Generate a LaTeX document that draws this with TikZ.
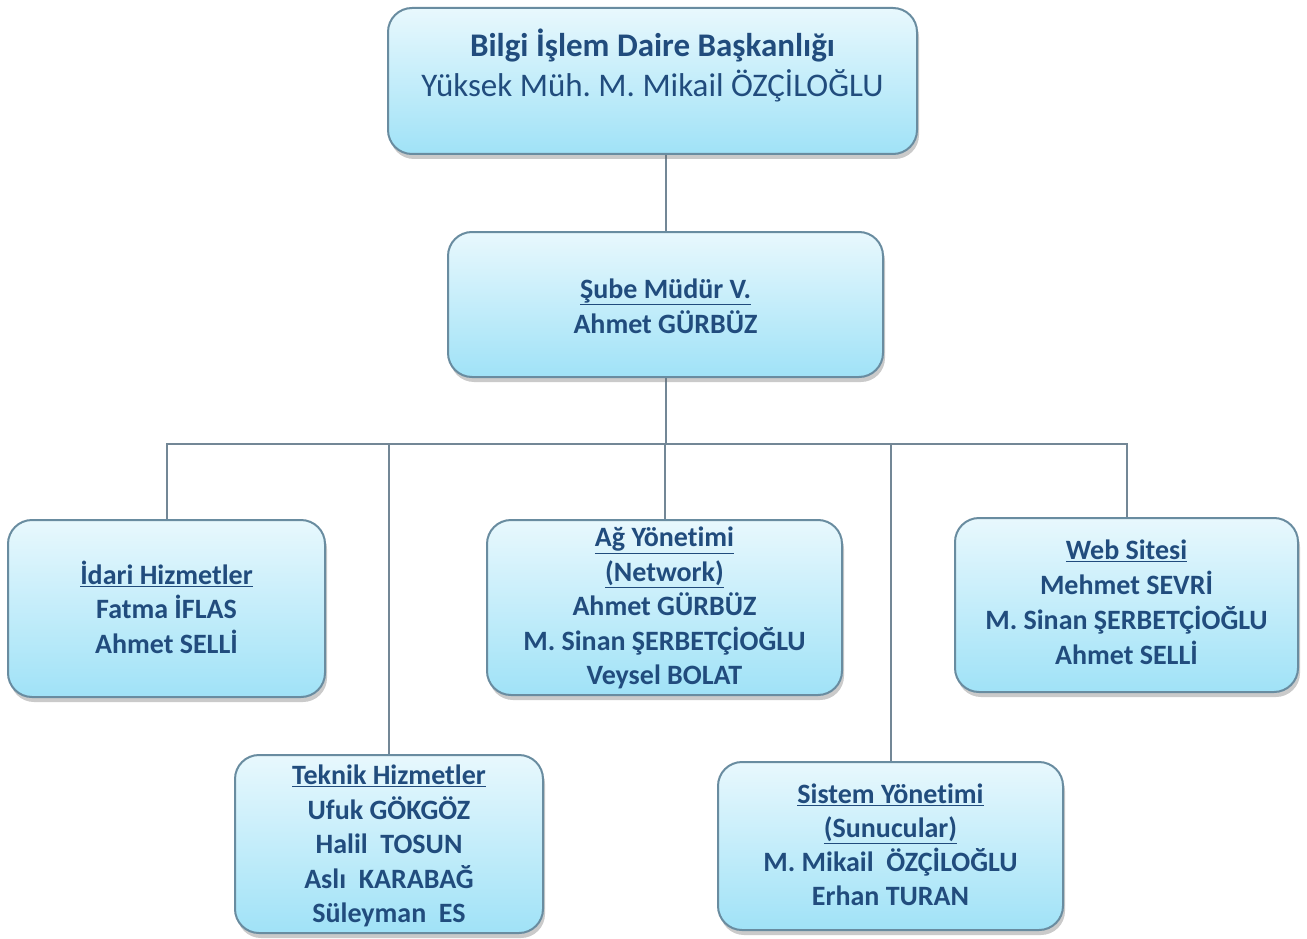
\documentclass[tikz,border=0pt]{standalone}
\usepackage{fontspec}
\setmainfont[Ligatures=NoCommon]{Carlito}
\usetikzlibrary{shadows}
\definecolor{txt}{RGB}{33,76,125}
\definecolor{boxtop}{RGB}{232,248,253}
\definecolor{boxbot}{RGB}{160,226,247}
\definecolor{boxedge}{RGB}{105,140,160}
\definecolor{conn}{RGB}{115,135,150}
\pgfdeclarelayer{background}
\pgfsetlayers{background,main}
\frenchspacing
\begin{document}
\frenchspacing
\begin{tikzpicture}[x=1pt,y=-1pt,
  orgbox/.style={draw=boxedge, line width=2pt, rounded corners=24pt,
    top color=boxtop, bottom color=boxbot,
    drop shadow={shadow xshift=2pt, shadow yshift=-5pt, opacity=0.35, fill=black!60},
    inner sep=0pt},
  lbl/.style={text=txt, align=center, inner sep=0pt,
    font=\bfseries\fontsize{28}{34.5}\selectfont},
  link/.style={draw=conn, line width=2pt}]
\useasboundingbox (0,0) rectangle (1307,939);

% boxes
\node[orgbox, minimum width=529pt, minimum height=146pt] (top) at (652.5,81) {};
\node[orgbox, minimum width=435pt, minimum height=145pt] (b2) at (665.5,304.5) {};
\node[orgbox, minimum width=317pt, minimum height=177pt] (idari) at (166.5,608.5) {};
\node[orgbox, minimum width=355pt, minimum height=175pt] (ag) at (664.5,607.5) {};
\node[orgbox, minimum width=343pt, minimum height=174pt] (web) at (1126.5,605) {};
\node[orgbox, minimum width=308pt, minimum height=178pt] (teknik) at (389,844) {};
\node[orgbox, minimum width=345pt, minimum height=168pt] (sistem) at (890.5,846) {};

% texts
\node[lbl, font=\fontsize{33}{40}\selectfont] (toptxt) at (652.5,68.6)
  {\textbf{Bilgi İşlem Daire Başkanlığı}\strut\\Yüksek Müh. M. Mikail ÖZÇİLOĞLU\strut};
\node[lbl, font=\bfseries\fontsize{28}{35}\selectfont] (b2txt) at (665.5,308.6)
  {\underline{Şube Müdür V.}\strut\\Ahmet GÜRBÜZ\strut};
\node[lbl] (idaritxt) at (166.5,612)
  {\underline{İdari Hizmetler}\strut\\Fatma İFLAS\strut\\Ahmet SELLİ\strut};
\node[lbl] (agtxt) at (664.5,609)
  {\underline{Ağ Yönetimi}\strut\\\underline{(Network)}\strut\\Ahmet GÜRBÜZ\strut\\M. Sinan ŞERBETÇİOĞLU\strut\\Veysel BOLAT\strut};
\node[lbl, font=\bfseries\fontsize{28}{35}\selectfont] (webtxt) at (1126.5,605)
  {\underline{Web Sitesi}\strut\\Mehmet SEVRİ\strut\\M. Sinan ŞERBETÇİOĞLU\strut\\Ahmet SELLİ\strut};
\node[lbl] (tekniktxt) at (389,847)
  {\underline{Teknik Hizmetler}\strut\\Ufuk GÖKGÖZ\strut\\Halil\ \ TOSUN\strut\\Aslı\ \ KARABAĞ\strut\\Süleyman\ \ ES\strut};
\node[lbl, font=\bfseries\fontsize{28}{34}\selectfont] (sistemtxt) at (890.5,848)
  {\underline{Sistem Yönetimi}\strut\\\underline{(Sunucular)}\strut\\M. Mikail\ \ ÖZÇİLOĞLU\strut\\Erhan TURAN\strut};

% connectors
\begin{pgfonlayer}{background}
\coordinate (bus) at (0,444);
\draw[link] (b2.north) -- (b2.north |- top.south);
\draw[link] (b2.south) -- (b2.south |- bus);
\draw[link] (idari.north) -- (idari.north |- bus) -- (web.north |- bus) -- (web.north);
\draw[link] (teknik.north) -- (teknik.north |- bus);
\draw[link] (ag.north) -- (ag.north |- bus);
\draw[link] (sistem.north) -- (sistem.north |- bus);
\end{pgfonlayer}
\end{tikzpicture}
\end{document}
